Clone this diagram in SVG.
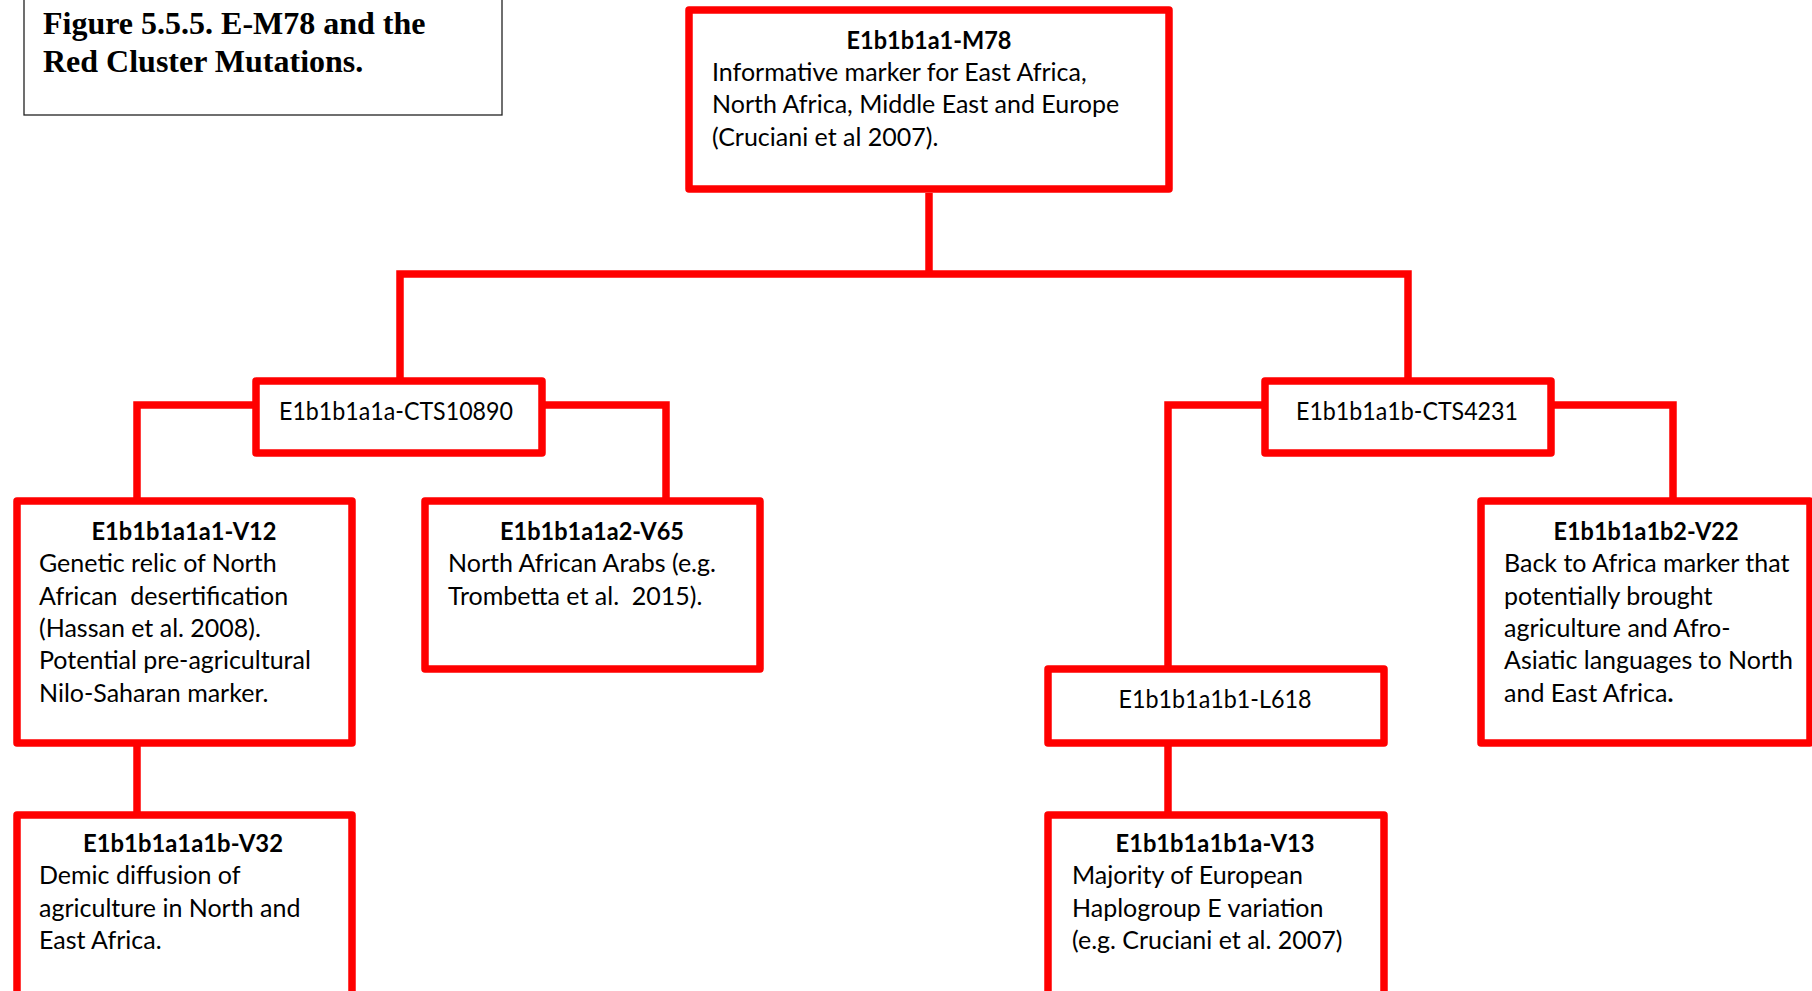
<svg xmlns="http://www.w3.org/2000/svg" width="1812" height="991" viewBox="0 0 1812 991">
<style>
.box{fill:#fff;stroke:#ff0000;stroke-width:7.5;stroke-linejoin:round}
.con{fill:none;stroke:#ff0000;stroke-width:7.5;stroke-linejoin:miter}
.t{font-family:Lato,"Open Sans",sans-serif;font-size:25px;fill:#000}
.b{font-weight:bold}
.c{text-anchor:middle}
.title{font-family:"Liberation Serif","Times New Roman",serif;font-size:32px;font-weight:bold;fill:#000}
</style>
<rect width="1812" height="991" fill="#fff"/>
<g id="title">
<rect x="24" y="-10" width="478" height="125" fill="#fff" stroke="#222" stroke-width="1.3"/>
<text class="title" x="43" y="34">Figure 5.5.5. E-M78 and the</text>
<text class="title" x="43" y="72">Red Cluster Mutations.</text>
</g>
<g id="connectors">
<polyline class="con" points="929,193 929,274"/>
<polyline class="con" points="400,378 400,274 1408,274 1408,378"/>
<polyline class="con" points="253,405 137,405 137,498"/>
<polyline class="con" points="545,405 666,405 666,498"/>
<polyline class="con" points="1262,405 1168,405 1168,666"/>
<polyline class="con" points="1554,405 1673,405 1673,498"/>
<polyline class="con" points="137,746 137,812"/>
<polyline class="con" points="1168,746 1168,812"/>
</g>
<g id="n-m78">
<rect class="box" x="689" y="10" width="480" height="179"/>
<text class="t b c" x="929" y="49" textLength="165" lengthAdjust="spacingAndGlyphs">E1b1b1a1-M78</text>
<text class="t" x="712" y="81">Informative marker for East Africa,</text>
<text class="t" x="712" y="113">North Africa, Middle East and Europe</text>
<text class="t" x="712" y="146">(Cruciani et al 2007).</text>
</g>
<g id="n-cts10890">
<rect class="box" x="256" y="381" width="286" height="72"/>
<text class="t c" x="396" y="420" textLength="234" lengthAdjust="spacingAndGlyphs">E1b1b1a1a-CTS10890</text>
</g>
<g id="n-cts4231">
<rect class="box" x="1265" y="381" width="286" height="72"/>
<text class="t c" x="1407" y="420" textLength="222" lengthAdjust="spacingAndGlyphs">E1b1b1a1b-CTS4231</text>
</g>
<g id="n-v12">
<rect class="box" x="17" y="501" width="335" height="242"/>
<text class="t b c" x="184" y="540" textLength="185" lengthAdjust="spacingAndGlyphs">E1b1b1a1a1-V12</text>
<text class="t" x="39" y="572">Genetic relic of North</text>
<text class="t" x="39" y="605" xml:space="preserve">African  desertification</text>
<text class="t" x="39" y="637">(Hassan et al. 2008).</text>
<text class="t" x="39" y="669">Potential pre-agricultural</text>
<text class="t" x="39" y="702">Nilo-Saharan marker.</text>
</g>
<g id="n-v65">
<rect class="box" x="425" y="501" width="335" height="168"/>
<text class="t b c" x="592" y="540" textLength="184" lengthAdjust="spacingAndGlyphs">E1b1b1a1a2-V65</text>
<text class="t" x="448" y="572">North African Arabs (e.g.</text>
<text class="t" x="448" y="605" xml:space="preserve">Trombetta et al.  2015).</text>
</g>
<g id="n-l618">
<rect class="box" x="1048" y="669" width="336" height="74"/>
<text class="t c" x="1215" y="708" textLength="193" lengthAdjust="spacingAndGlyphs">E1b1b1a1b1-L618</text>
</g>
<g id="n-v22">
<rect class="box" x="1481" y="501" width="329" height="242"/>
<text class="t b c" x="1646" y="540" textLength="185" lengthAdjust="spacingAndGlyphs">E1b1b1a1b2-V22</text>
<text class="t" x="1504" y="572">Back to Africa marker that</text>
<text class="t" x="1504" y="605">potentially brought</text>
<text class="t" x="1504" y="637">agriculture and Afro-</text>
<text class="t" x="1504" y="669">Asiatic languages to North</text>
<text class="t" x="1504" y="702">and East Africa<tspan class="b">.</tspan></text>
</g>
<g id="n-v32">
<rect class="box" x="17" y="815" width="335" height="200"/>
<text class="t b c" x="183" y="852" textLength="200" lengthAdjust="spacingAndGlyphs">E1b1b1a1a1b-V32</text>
<text class="t" x="39" y="884">Demic diffusion of</text>
<text class="t" x="39" y="917">agriculture in North and</text>
<text class="t" x="39" y="949">East Africa.</text>
</g>
<g id="n-v13">
<rect class="box" x="1048" y="815" width="336" height="200"/>
<text class="t b c" x="1215" y="852" textLength="199" lengthAdjust="spacingAndGlyphs">E1b1b1a1b1a-V13</text>
<text class="t" x="1072" y="884">Majority of European</text>
<text class="t" x="1072" y="917">Haplogroup E variation</text>
<text class="t" x="1072" y="949">(e.g. Cruciani et al. 2007)</text>
</g>
</svg>
